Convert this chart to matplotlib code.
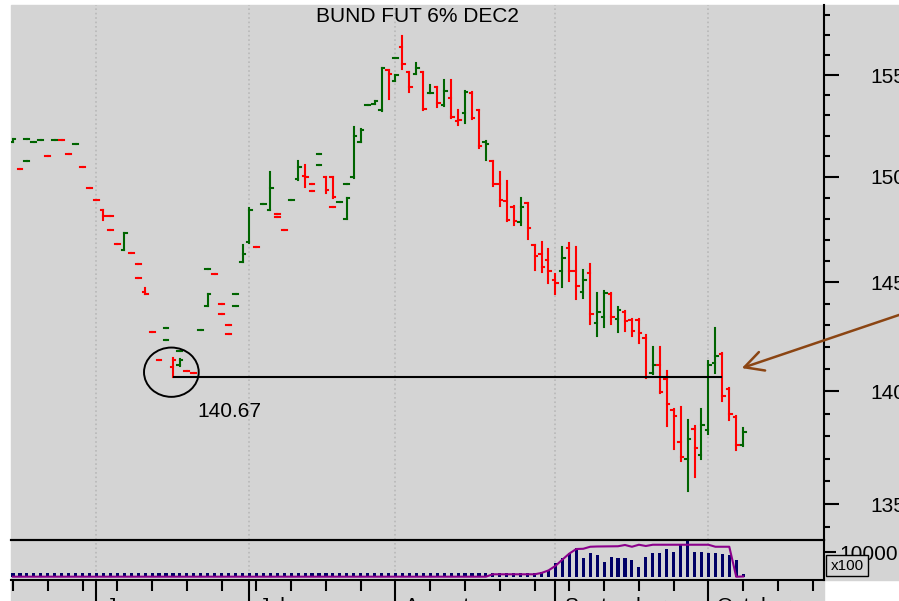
"""
Daily bar chart of the Bund future (Dec contract) with volume / open interest panel,
a support line at the June low and a couple of hand-drawn style annotations.
"""

import matplotlib
matplotlib.use("Agg")
import matplotlib.pyplot as plt
import matplotlib.ticker as mticker
import pandas as pd
from matplotlib.collections import LineCollection
from matplotlib.patches import Ellipse, Rectangle
from matplotlib.transforms import ScaledTranslation

plt.rcParams["font.family"] = ["Liberation Sans", "DejaVu Sans"]

TITLE = "BUND FUT 6% DEC2"
FIRST_DAY = "2022-05-16"  # first trading day shown, bars sit on business-day index

# support line drawn from the June low out to early October
SUPPORT = 140.67
SUPPORT_FROM = 23
SUPPORT_TO = 102

PRICE_TICKS = [135, 140, 145, 150, 155]

# --- daily bars (some days carry two entries in the source feed) ---
bar_pos = [0, 1, 2, 2, 3, 4, 5, 6, 7, 8,
           9, 10, 11, 12, 13, 14, 14, 15, 16, 17,
           18, 18, 19, 20, 21, 22, 22, 23, 24, 24,
           25, 26, 27, 28, 28, 29, 30, 30, 31, 31,
           32, 32, 33, 34, 35, 36, 37, 38, 38, 39,
           40, 41, 42, 43, 43, 44, 44, 45, 46, 46,
           47, 48, 48, 49, 50, 51, 52, 53, 54, 55,
           55, 56, 57, 58, 59, 60, 61, 62, 63, 64, 65,
           66, 67, 68, 69, 70, 71, 72, 73, 74, 75,
           76, 77, 78, 79, 80, 81, 82, 83, 84, 85,
           86, 87, 88, 89, 90, 91, 92, 93, 94, 95,
           96, 97, 98, 99, 100, 101, 102, 103, 104, 105]

bar_open = [151.70, 150.39, 151.86, 150.75, 151.70, 151.78, 151.01, 151.78, 151.78, 151.11,
            151.61, 150.49, 149.47, 148.89, 148.40, 148.14, 147.48, 146.80, 146.53, 146.39,
            145.84, 145.21, 144.56, 142.70, 141.42, 142.87, 142.31, 141.10, 141.17, 141.81,
            140.94, 140.85, 142.78, 145.63, 143.92, 145.38, 144.00, 143.53, 143.02, 142.63,
            144.47, 143.92, 145.97, 146.88, 146.64, 148.71, 148.40, 148.22, 148.06, 147.48,
            148.88, 149.89, 150.04, 149.65, 149.30, 151.11, 150.58, 149.98, 149.98, 148.56,
            148.79, 147.97, 149.65, 150.00, 151.70, 153.51, 153.58, 153.25, 155.25, 154.71,
            155.86, 156.41, 155.16, 155.07, 155.16, 154.13, 154.39, 153.51, 153.86, 152.71, 153.10,
            154.13, 153.25, 151.70, 150.76, 149.66, 148.82, 148.57, 147.83, 148.73, 146.74,
            146.33, 146.03, 145.13, 145.54, 146.62, 145.54, 144.56, 145.43, 143.12, 143.37,
            144.46, 143.30, 143.60, 143.27, 143.27, 142.43, 140.82, 141.19, 140.55, 139.17,
            137.73, 136.99, 138.32, 137.15, 138.26, 141.28, 141.71, 140.09, 138.85, 137.62]

bar_high = [151.86, 150.39, 151.86, 150.75, 151.70, 151.78, 151.01, 151.78, 151.78, 151.11,
            151.61, 150.49, 149.47, 148.89, 148.43, 148.14, 147.48, 146.80, 147.32, 146.39,
            145.84, 145.21, 144.75, 142.70, 141.42, 142.87, 142.31, 141.51, 141.47, 141.81,
            140.94, 140.85, 142.78, 145.63, 144.45, 145.38, 144.00, 143.53, 143.02, 142.63,
            144.47, 143.92, 146.75, 148.51, 146.64, 148.71, 150.25, 148.22, 148.06, 147.48,
            148.88, 150.78, 150.58, 149.65, 149.30, 151.11, 150.58, 150.01, 150.01, 148.56,
            148.79, 148.98, 149.65, 152.41, 152.34, 153.51, 153.69, 155.36, 155.25, 155.00,
            155.86, 156.95, 155.16, 155.62, 155.16, 154.51, 154.40, 154.75, 154.75, 153.28, 154.21,
            154.15, 153.28, 151.73, 150.78, 150.25, 149.82, 148.59, 148.98, 148.75, 146.76,
            146.91, 146.56, 145.39, 146.66, 146.83, 146.67, 145.58, 145.85, 144.52, 144.60,
            144.52, 143.85, 143.65, 143.30, 143.30, 142.58, 142.02, 142.02, 140.94, 139.20,
            139.29, 138.73, 138.46, 139.20, 141.36, 142.89, 141.74, 140.14, 138.91, 138.36]

bar_low = [151.70, 150.39, 151.86, 150.75, 151.70, 151.78, 151.01, 151.78, 151.78, 151.11,
           151.61, 150.49, 149.47, 148.89, 147.95, 148.14, 147.48, 146.80, 146.53, 146.39,
           145.84, 145.21, 144.46, 142.70, 141.42, 142.87, 142.31, 140.67, 141.16, 141.81,
           140.94, 140.85, 142.78, 145.63, 143.92, 145.38, 144.00, 143.53, 143.02, 142.63,
           144.47, 143.92, 145.95, 146.85, 146.64, 148.71, 148.40, 148.22, 148.06, 147.48,
           148.88, 149.87, 149.53, 149.65, 149.30, 151.11, 150.58, 149.22, 149.01, 148.56,
           148.79, 147.97, 149.65, 149.96, 151.68, 153.51, 153.58, 153.23, 153.82, 154.71,
           155.86, 155.28, 154.18, 155.07, 153.28, 154.10, 153.42, 153.48, 152.88, 152.55, 152.63,
           152.83, 151.40, 150.81, 149.55, 148.62, 147.87, 147.72, 147.72, 147.04, 145.58,
           145.48, 144.96, 144.44, 144.78, 145.05, 144.20, 144.29, 143.07, 142.50, 142.93,
           143.07, 142.69, 142.73, 142.53, 142.20, 140.60, 140.79, 139.94, 138.46, 137.43,
           136.88, 135.59, 136.19, 136.99, 138.07, 140.82, 139.57, 138.70, 137.37, 137.55]

bar_close = [151.86, 150.39, 151.86, 150.75, 151.70, 151.78, 151.01, 151.78, 151.78, 151.11,
             151.61, 150.49, 149.47, 148.89, 148.14, 148.14, 147.48, 146.80, 147.30, 146.39,
             145.84, 145.21, 144.47, 142.70, 141.42, 142.87, 142.31, 141.42, 141.40, 141.81,
             140.94, 140.85, 142.78, 145.63, 144.45, 145.38, 144.00, 143.53, 143.02, 142.63,
             144.47, 143.92, 146.31, 148.40, 146.64, 148.71, 149.47, 148.22, 148.06, 147.48,
             148.88, 150.50, 150.01, 149.65, 149.30, 151.11, 150.58, 149.38, 149.05, 148.56,
             148.79, 148.98, 149.65, 151.97, 152.30, 153.51, 153.69, 155.35, 155.06, 155.00,
             155.86, 155.53, 154.39, 155.36, 153.33, 154.13, 153.61, 154.21, 152.90, 152.76, 154.18,
             152.88, 151.52, 151.61, 149.64, 148.90, 147.92, 147.87, 148.56, 147.56, 146.23,
             145.72, 145.52, 144.98, 146.13, 145.54, 144.81, 145.13, 143.53, 143.62, 144.52,
             143.37, 143.69, 143.19, 142.73, 142.66, 140.67, 141.19, 139.97, 139.44, 138.88,
             137.08, 137.88, 137.48, 138.51, 141.19, 141.59, 139.81, 138.98, 137.62, 138.19]

# 1 = green (up) bar, 0 = red (down) bar
bar_up = [1, 0, 1, 1, 1, 1, 0, 1, 0, 0,
          1, 0, 0, 0, 0, 0, 0, 0, 1, 0,
          0, 0, 0, 0, 0, 1, 1, 0, 1, 1,
          0, 0, 1, 1, 1, 0, 0, 0, 0, 0,
          1, 1, 1, 1, 0, 1, 1, 0, 0, 0,
          1, 1, 0, 0, 0, 1, 1, 0, 0, 0,
          1, 1, 1, 1, 1, 1, 1, 1, 0, 1,
          1, 0, 0, 1, 0, 1, 0, 1, 0, 0, 1,
          0, 0, 1, 0, 0, 0, 0, 1, 0, 0,
          0, 0, 0, 1, 0, 0, 1, 0, 1, 1,
          0, 1, 0, 0, 0, 0, 1, 0, 0, 0,
          0, 1, 0, 1, 1, 1, 0, 0, 0, 1]

# --- volume (x100) per business day ---
vol_pos = list(range(106))
volume = [1600, 1600, 1600, 1600, 1600, 1600, 1600, 1600, 1600, 1600,
          1600, 1600, 1600, 1600, 1600, 1600, 1600, 1600, 1600, 1600,
          1600, 1600, 1600, 1600, 1600, 1600, 1600, 1600, 1600, 1600,
          1600, 1600, 1600, 1600, 1600, 1600, 1600, 1600, 1600, 1600,
          1600, 1600, 1600, 1600, 1600, 1600, 1600, 1600, 1600, 1600,
          1600, 1600, 1600, 1600, 1600, 1600, 1600, 1600, 1600, 1600,
          1600, 1600, 1600, 1600, 1600, 1600, 1600, 1600, 1600, 1600,
          1600, 1600, 1600, 1600, 1600, 1700, 2000, 3000, 5600, 7600,
          9600, 11600, 7600, 9600, 8900, 6300, 8250, 7600, 7600, 6950,
          4300, 8250, 9850, 9600, 11200, 10250, 12900, 14900, 10250, 10250,
          9600, 9600, 9200, 8900, 6950, 1270]

# open interest (x100), read where the line changes
oi_pos = [0, 68, 69, 75, 76, 77, 78, 79, 80, 81, 82, 83, 84, 87, 88, 89, 90, 91,
          92, 100, 101, 103, 104, 105]
open_interest = [320, 320, 1270, 1270, 1800, 2800, 4600, 7100, 9500, 11300, 11400, 12200,
                 12300, 12400, 12900, 12200, 13000, 12500, 13000, 13000, 12200, 12200,
                 300, 400]

W, H, DPI = 899, 601, 100
BG = "#d4d4d4"
GRID = "#b8b8b8"
UP_COLOR = "#006400"
DOWN_COLOR = "#ff0000"
VOL_COLOR = "#000066"
OI_COLOR = "#8b008b"
ARROW_COLOR = "#8b4513"
TICK = 0.35  # open/close tick length in bar units


def fx(px):
    return px / W


def fy(py):
    return 1 - py / H


def pt(px):
    return px * 72 / DPI


fig = plt.figure(figsize=(W / DPI, H / DPI), dpi=DPI, facecolor="white")
# grey chart background (the strip under the price scale is left white)
fig.add_artist(Rectangle((fx(11), fy(580)), 1 - fx(11), fy(4.5) - fy(580),
                         transform=fig.transFigure, color=BG, zorder=-10))
fig.add_artist(Rectangle((fx(11), 0), fx(824) - fx(11), fy(580),
                         transform=fig.transFigure, color=BG, zorder=-10))

ax = fig.add_axes([fx(11), fy(540), fx(824) - fx(11), fy(4.5) - fy(540)])
vol = fig.add_axes([fx(11), fy(580), fx(824) - fx(11), fy(540) - fy(580)])
for a in (ax, vol):
    a.set_facecolor("none")
    a.spines["left"].set_visible(False)
    for s in ("right", "bottom", "top"):
        a.spines[s].set_linewidth(1.5)
ax.spines["top"].set_visible(False)

# calendar: business days from the first bar, month starts and weekly (Monday) ticks
days = pd.bdate_range(FIRST_DAY, periods=117)
mondays = [i for i, d in enumerate(days) if d.dayofweek == 0]
month_starts = [i for i in range(1, len(days)) if days[i].month != days[i - 1].month]

# --- price bars ---
segs, cols = [], []
for x, o, h, l, c, u in zip(bar_pos, bar_open, bar_high, bar_low, bar_close, bar_up):
    col = UP_COLOR if u else DOWN_COLOR
    segs += [[(x, l), (x, h)], [(x - TICK, o), (x, o)], [(x, c), (x + TICK, c)]]
    cols += [col] * 3
ax.add_collection(LineCollection(segs, colors=cols, linewidths=1.5, capstyle="projecting"))

ax.set_yscale("log")
ax.set_xlim(-0.29, 116.62)
ax.set_ylim(133.46, 158.56)
ax.yaxis.tick_right()
ax.yaxis.set_major_locator(mticker.FixedLocator(PRICE_TICKS))
ax.yaxis.set_major_formatter(mticker.FormatStrFormatter("%d"))
ax.yaxis.set_minor_locator(mticker.FixedLocator([v for v in range(134, 159) if v % 5]))
ax.yaxis.set_minor_formatter(mticker.NullFormatter())
ax.tick_params(axis="y", which="major", length=pt(15), width=1.5, pad=pt(31), labelsize=15)
ax.tick_params(axis="y", which="minor", length=pt(6), width=1.5)
ax.tick_params(axis="x", which="both", bottom=False, labelbottom=False)

for m in month_starts:
    for a in (ax, vol):
        a.axvline(m, color=GRID, lw=1.2, ls=":", zorder=0)

# title baseline sits about 17 px under the top of the price panel
ax.text(0.5, 1 - 17.2 / 535.5, TITLE, transform=ax.transAxes,
        ha="center", va="baseline", fontsize=15)

# support line, circle round the low and its value
ax.hlines(SUPPORT, SUPPORT_FROM, SUPPORT_TO, color="black", lw=1.5)
circle = Ellipse((-0.016, 0.043), 0.547, 0.493, fill=False, ec="black", lw=1.4,
                 transform=fig.dpi_scale_trans
                 + ScaledTranslation(SUPPORT_FROM, SUPPORT, ax.transData))
fig.add_artist(circle)
ax.annotate(f"{SUPPORT:.2f}", xy=(SUPPORT_FROM, SUPPORT), xytext=(pt(24.7), pt(-40)),
            textcoords="offset points", ha="left", va="baseline", fontsize=15)

# arrow coming in from the right edge
ax.annotate("", xy=(104.8, 141.05), xycoords="data",
            xytext=(fx(930), fy(304.5)), textcoords="figure fraction",
            arrowprops=dict(arrowstyle="->,head_length=0.67,head_width=0.35",
                            mutation_scale=20, color=ARROW_COLOR, lw=1.8,
                            shrinkA=0, shrinkB=0),
            annotation_clip=False)

# --- volume panel ---
vol.bar(vol_pos, volume, width=0.45, color=VOL_COLOR, zorder=2)
vol.plot(oi_pos, open_interest, color=OI_COLOR, lw=1.5, zorder=3)
vol.set_xlim(ax.get_xlim())
vol.set_ylim(-1000, 14880)
vol.yaxis.tick_right()
vol.set_yticks([10000])
vol.set_yticklabels(["10000"])
vol.tick_params(axis="y", length=pt(12), width=1.5, pad=pt(3), labelsize=15)
vol.xaxis.set_major_locator(mticker.FixedLocator(month_starts))
vol.xaxis.set_minor_locator(mticker.FixedLocator(mondays))
vol.tick_params(axis="x", which="major", length=pt(24), width=1.5, labelbottom=False)
vol.tick_params(axis="x", which="minor", length=pt(11), width=1.5)
for m in month_starts:
    vol.annotate(days[m].strftime("%B"), xy=(m, 0), xycoords=("data", "axes fraction"),
                 xytext=(pt(9), pt(-17)), textcoords="offset points",
                 ha="left", va="top", fontsize=15, annotation_clip=False)

fig.text(fx(847), fy(565.5), "x100", ha="center", va="center", fontsize=11,
         bbox=dict(boxstyle="square,pad=0.26", fc=BG, ec="black", lw=1))

fig.savefig("out.png", dpi=DPI, facecolor="white")
